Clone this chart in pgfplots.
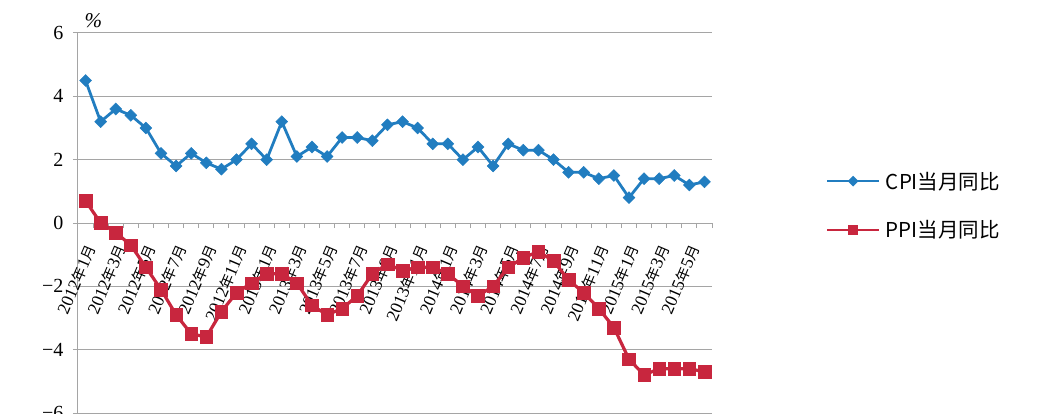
\documentclass[border=0pt]{standalone}
\usepackage{fontspec}
\setmainfont{Liberation Serif}
\newfontfamily\cjk{Noto Sans CJK SC}
\usepackage{pgfplots}
\pgfplotsset{compat=1.18}
\definecolor{cpiblue}{RGB}{33,125,192}
\definecolor{ppired}{RGB}{200,38,62}
\definecolor{gridgray}{RGB}{165,165,165}
\newcommand{\ym}[2]{#1{\cjk\fontsize{14.5}{16}\selectfont 年}#2{\cjk\fontsize{14.5}{16}\selectfont 月}}

\begin{document}
\begin{tikzpicture}
\useasboundingbox (-78pt,0pt) rectangle (978pt,413pt);
\begin{axis}[
  name=ax,
  at={(0pt,0pt)}, anchor=south west,
  width=634pt, height=380pt, scale only axis,
  xmin=-0.5, xmax=41.5, ymin=-6, ymax=6,
  axis y line=left, axis x line=middle,
  axis line style={draw=gridgray, line width=1pt, -},
  ytick={-6,-4,...,6},
  yticklabels={−6,−4,−2,0,2,4,6},
  ymajorgrids,
  grid style={draw=gridgray, line width=1pt},
  xtick={0,2,...,40},
  xticklabels={\ym{2012}{1},\ym{2012}{3},\ym{2012}{5},\ym{2012}{7},\ym{2012}{9},\ym{2012}{11},
               \ym{2013}{1},\ym{2013}{3},\ym{2013}{5},\ym{2013}{7},\ym{2013}{9},\ym{2013}{11},
               \ym{2014}{1},\ym{2014}{3},\ym{2014}{5},\ym{2014}{7},\ym{2014}{9},\ym{2014}{11},
               \ym{2015}{1},\ym{2015}{3},\ym{2015}{5}},
  minor xtick={-0.5,0.5,...,41.5},
  major x tick style={draw=none},
  minor x tick style={draw=gridgray, line width=1pt},
  y tick style={draw=gridgray, line width=1pt},
  tick align=outside,
  major tick length=5pt, minor tick length=5pt,
  x tick label style={font=\fontsize{17.5}{18}\selectfont, xshift=6pt, yshift=-17pt, rotate=67, anchor=east, inner sep=1pt},
  y tick label style={font=\fontsize{20}{22}\selectfont, xshift=-6pt},
  legend style={draw=none, fill=none, at={(1.18,0.546)}, anchor=west,
                font=\cjk\fontsize{20.5}{22}\selectfont, row sep=26pt, inner sep=0pt,
                nodes={inner xsep=6pt}},
  legend cell align=left,
  legend image code/.code={\draw[mark repeat=2,mark phase=2,#1] plot coordinates {(0pt,0pt) (26pt,0pt) (52pt,0pt)};},
]
% year-on-year CPI, monthly
\addplot[forget plot, cpiblue, line width=2.8pt, mark=square*, mark size=4.2pt,
         mark options={rotate=45, line width=0.5pt}] coordinates {
  (0,4.5) (1,3.2) (2,3.6) (3,3.4) (4,3.0) (5,2.2) (6,1.8) (7,2.2) (8,1.9) (9,1.7) (10,2.0) (11,2.5)
  (12,2.0) (13,3.2) (14,2.1) (15,2.4) (16,2.1) (17,2.7) (18,2.7) (19,2.6) (20,3.1) (21,3.2) (22,3.0) (23,2.5)
  (24,2.5) (25,2.0) (26,2.4) (27,1.8) (28,2.5) (29,2.3) (30,2.3) (31,2.0) (32,1.6) (33,1.6) (34,1.4) (35,1.5)
  (36,0.8) (37,1.4) (38,1.4) (39,1.5) (40,1.2) (41,1.3)
};
% year-on-year PPI, monthly
\addplot[forget plot, ppired, line width=3.2pt, mark=square*, mark size=6.3pt,
         mark options={line width=0.5pt}] coordinates {
  (0,0.7) (1,0.0) (2,-0.3) (3,-0.7) (4,-1.4) (5,-2.1) (6,-2.9) (7,-3.5) (8,-3.6) (9,-2.8) (10,-2.2) (11,-1.9)
  (12,-1.6) (13,-1.6) (14,-1.9) (15,-2.6) (16,-2.9) (17,-2.7) (18,-2.3) (19,-1.6) (20,-1.3) (21,-1.5) (22,-1.4) (23,-1.4)
  (24,-1.6) (25,-2.0) (26,-2.3) (27,-2.0) (28,-1.4) (29,-1.1) (30,-0.9) (31,-1.2) (32,-1.8) (33,-2.2) (34,-2.7) (35,-3.3)
  (36,-4.3) (37,-4.8) (38,-4.6) (39,-4.6) (40,-4.6) (41,-4.7)
};
\addlegendimage{cpiblue, line width=1.6pt, mark=square*, mark size=3pt, mark options={rotate=45}}
\addlegendentry{CPI当月同比}
\addlegendimage{ppired, line width=1.6pt, mark=square*, mark size=4.5pt}
\addlegendentry{PPI当月同比}
\end{axis}
\node[anchor=base west, font=\fontsize{21}{21}\selectfont\itshape, xshift=3pt, yshift=5pt]
  at (ax.north west) {\%};
\end{tikzpicture}
\end{document}
